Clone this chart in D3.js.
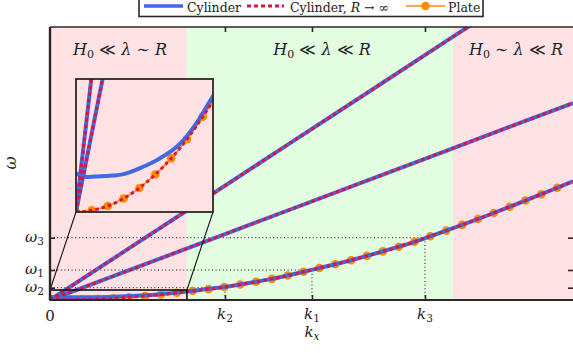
<!DOCTYPE html>
<html><head><meta charset="utf-8">
<script src="https://cdn.jsdelivr.net/npm/d3@7"></script>
<style>body{margin:0;background:#fff}svg{display:block}</style>
</head><body><svg id="c" width="573" height="353"></svg>
<script>
// ---- data ----
const regionEdges = [0, 0.864, 2.543, 3.3];
const regionKinds = ["pink", "green", "pink"];
const regionLabels = [["H","0","≪","λ","∼","R"],["H","0","≪","λ","≪","R"],["H","0","∼","λ","≪","R"]];
const kTicks = [1.104, 1.653, 2.366];
const kTickLabels = ["2", "1", "3"];
const wTicks = [0.123, 0.30, 0.623];
const wTickLabels = ["2", "1", "3"];

const kPlate = [0,0.1,0.2,0.3,0.4,0.5,0.6,0.7,0.8,0.9,1.0,1.1,1.2,1.3,1.4,1.5,1.6,1.7,1.8,1.9,2.0,2.1,2.2,2.3,2.4,2.5,2.6,2.7,2.8,2.9,3.0,3.1,3.2];
const wPlate = [0,0.0013,0.0045,0.0101,0.0181,0.0282,0.0403,0.0547,0.0717,0.090,0.109,0.130,0.155,0.182,0.211,0.245,0.282,0.320,0.358,0.398,0.441,0.486,0.533,0.582,0.638,0.694,0.751,0.810,0.870,0.932,0.995,1.058,1.122];
const kInfEnd = [3.3];
const wInfEnd = [1.186];

const kSteep = [0, 0.5, 1.0, 1.5, 2.0, 2.5, 2.7];
const wSteep = [0, 0.518, 1.035, 1.553, 2.07, 2.588, 2.795];
const kMid = [0, 0.5, 1.0, 1.5, 2.0, 2.5, 3.0, 3.3];
const wMid = [0, 0.298, 0.597, 0.895, 1.194, 1.492, 1.791, 1.97];
const kCylLow = [0,0.07,0.19,0.30,0.40,0.51,0.66,0.76,0.87,0.95,1.0,1.1,1.2,1.3,1.4,1.5,1.6,1.7,1.8,1.9,2.0,2.1,2.2,2.3,2.4,2.5,2.6,2.7,2.8,2.9,3.0,3.1,3.2,3.3];
const wCylLow = [0.029,0.0264,0.027,0.0285,0.0328,0.039,0.0517,0.0668,0.088,0.101,0.112,0.131,0.155,0.182,0.211,0.245,0.282,0.320,0.358,0.398,0.441,0.486,0.533,0.582,0.638,0.694,0.751,0.810,0.870,0.932,0.995,1.058,1.122,1.186];

const legendItems = ["Cylinder", "Cylinder, ", "Plate"];

// ---- styles ----
const C = {pink:"#ffe3e4", green:"#e3fde0", blue:"#4169e1", red:"#dc143c", orange:"#ff8c00", frame:"#2e2626", text:"#222"};
const FONT = "'DejaVu Serif', serif";

const svg = d3.select("#c");
const x = d3.scaleLinear().domain([0, 3.3]).range([50, 573]);
const y = d3.scaleLinear().domain([0, 2.73]).range([300, 27]);
const ix = d3.scaleLinear().domain([0, 0.864]).range([76, 213]);
const iy = d3.scaleLinear().domain([0, 0.1]).range([212, 79]);

const defs = svg.append("defs");
defs.append("clipPath").attr("id","plotclip").append("rect").attr("x",50).attr("y",27).attr("width",523).attr("height",273);
defs.append("clipPath").attr("id","insetclip").append("rect").attr("x",76).attr("y",79).attr("width",137).attr("height",133);

const zip = (a,b) => a.map((v,i)=>[v,b[i]]);
const plateData = zip(kPlate, wPlate);
const infLow = plateData.concat(zip(kInfEnd, wInfEnd));
const steep = zip(kSteep, wSteep), mid = zip(kMid, wMid), cylLow = zip(kCylLow, wCylLow);

function drawCurves(g, sx, sy) {
  const line = d3.line().x(d=>sx(d[0])).y(d=>sy(d[1])).curve(d3.curveMonotoneX);
  const lin = d3.line().x(d=>sx(d[0])).y(d=>sy(d[1]));
  g.append("path").attr("d", line(plateData)).attr("fill","none").attr("stroke",C.orange).attr("stroke-width",1.6);
  g.selectAll(null).data(plateData).enter().append("circle")
    .attr("cx",d=>sx(d[0])).attr("cy",d=>sy(d[1])).attr("r",4.3).attr("fill",C.orange);
  [steep, mid].forEach(s => g.append("path").attr("d", lin(s)).attr("fill","none").attr("stroke",C.blue).attr("stroke-width",4));
  g.append("path").attr("d", line(cylLow)).attr("fill","none").attr("stroke",C.blue).attr("stroke-width",4);
  [steep, mid].forEach(s => g.append("path").attr("d", lin(s)).attr("fill","none").attr("stroke",C.red).attr("stroke-width",3).attr("stroke-dasharray","3.5,3"));
  g.append("path").attr("d", line(infLow)).attr("fill","none").attr("stroke",C.red).attr("stroke-width",3).attr("stroke-dasharray","3.5,3");
}

function txt(sel) { return sel.append("text").style("font-family", FONT).attr("fill", C.text); }

const plot = svg.append("g").attr("clip-path","url(#plotclip)");
regionKinds.forEach((kind,i)=>{
  plot.append("rect").attr("x", x(regionEdges[i])).attr("y", 27)
    .attr("width", x(regionEdges[i+1]) - x(regionEdges[i])).attr("height", 273).attr("fill", C[kind]);
});
const guides = plot.append("g").attr("stroke","#111").attr("stroke-width",1).attr("stroke-dasharray","1,2.6");
kTicks.forEach((k,i)=>{
  guides.append("line").attr("x1",x(0)).attr("x2",x(k)).attr("y1",y(wTicks[i])).attr("y2",y(wTicks[i]));
  guides.append("line").attr("x1",x(k)).attr("x2",x(k)).attr("y1",y(0)).attr("y2",y(wTicks[i]));
});
drawCurves(plot, x, y);

const labelX = [120, 322, 516];
regionLabels.forEach((p,i)=>{
  const t = txt(svg).attr("x", labelX[i]).attr("y", 55).attr("text-anchor","middle").attr("font-size",16);
  t.append("tspan").attr("font-style","italic").text(p[0]);
  t.append("tspan").attr("font-size",11).attr("dy",3).text(p[1]);
  t.append("tspan").attr("dy",-3).text(" " + p[2] + " ");
  t.append("tspan").attr("font-style","italic").text(p[3]);
  t.append("tspan").text(" " + p[4] + " ");
  t.append("tspan").attr("font-style","italic").text(p[5]);
});

svg.append("rect").attr("x",x(0)).attr("y",y(0.1)).attr("width",x(0.864)-x(0)).attr("height",y(0)-y(0.1))
  .attr("fill","none").attr("stroke","#111").attr("stroke-width",1.6);
svg.append("line").attr("x1",x(0)).attr("y1",y(0.1)).attr("x2",76).attr("y2",212).attr("stroke","#111").attr("stroke-width",1.1);
svg.append("line").attr("x1",x(0.864)).attr("y1",y(0.1)).attr("x2",213).attr("y2",212).attr("stroke","#111").attr("stroke-width",1.1);

svg.append("rect").attr("x",76).attr("y",79).attr("width",137).attr("height",133).attr("fill",C.pink);
const ins = svg.append("g").attr("clip-path","url(#insetclip)");
drawCurves(ins, ix, iy);
svg.append("rect").attr("x",76).attr("y",79).attr("width",137).attr("height",133).attr("fill","none").attr("stroke",C.frame).attr("stroke-width",1.8);

const axB = svg.append("g").attr("transform","translate(0,300)").call(d3.axisBottom(x).tickValues(kTicks).tickSize(-5).tickFormat(""));
const axT = svg.append("g").attr("transform","translate(0,27)").call(d3.axisTop(x).tickValues(kTicks).tickSize(-5).tickFormat(""));
const axL = svg.append("g").attr("transform","translate(50,0)").call(d3.axisLeft(y).tickValues(wTicks).tickSize(-5).tickFormat(""));
const axR = svg.append("g").attr("transform","translate(573,0)").call(d3.axisRight(y).tickValues(wTicks).tickSize(-5).tickFormat(""));
[axB,axT,axL,axR].forEach(a=>{a.select(".domain").remove(); a.selectAll(".tick line").attr("stroke",C.frame).attr("stroke-width",1.6);});

svg.append("line").attr("x1",50).attr("x2",573).attr("y1",27).attr("y2",27).attr("stroke",C.frame).attr("stroke-width",1.6);
svg.append("line").attr("x1",50).attr("x2",573).attr("y1",300).attr("y2",300).attr("stroke",C.frame).attr("stroke-width",2);
svg.append("line").attr("x1",50).attr("x2",50).attr("y1",27).attr("y2",300).attr("stroke",C.frame).attr("stroke-width",2.4);

kTicks.forEach((k,i)=>{
  const t = txt(svg).attr("x", x(k)).attr("y", 319).attr("text-anchor","middle").attr("font-size",15);
  t.append("tspan").attr("font-style","italic").text("k");
  t.append("tspan").attr("font-size",10.5).attr("dy",3).text(kTickLabels[i]);
});
wTicks.forEach((w,i)=>{
  const t = txt(svg).attr("x", 44).attr("y", y(w)+4).attr("text-anchor","end").attr("font-size",15);
  t.append("tspan").attr("font-style","italic").text("ω");
  t.append("tspan").attr("font-size",10.5).attr("dy",3).text(wTickLabels[i]);
});
txt(svg).attr("x",x(0)).attr("y",321).attr("text-anchor","middle").attr("font-size",15).text("0");
const xl = txt(svg).attr("x",312).attr("y",337).attr("text-anchor","middle").attr("font-size",15);
xl.append("tspan").attr("font-style","italic").text("k");
xl.append("tspan").attr("font-style","italic").attr("font-size",10.5).attr("dy",3).text("x");
txt(svg).attr("transform","translate(16,163) rotate(-90)").attr("text-anchor","middle").attr("font-size",16).attr("font-style","italic").text("ω");

const lg = svg.append("g");
lg.append("rect").attr("x",139).attr("y",-3).attr("width",344).attr("height",19.5).attr("fill","#fff").attr("stroke",C.frame).attr("stroke-width",1.6);
lg.append("line").attr("x1",144).attr("x2",183).attr("y1",6).attr("y2",6).attr("stroke",C.blue).attr("stroke-width",3.6);
txt(lg).attr("x",187).attr("y",12).attr("font-size",12.5).text(legendItems[0]);
lg.append("line").attr("x1",247).attr("x2",284).attr("y1",6).attr("y2",6).attr("stroke",C.red).attr("stroke-width",3).attr("stroke-dasharray","4,3");
const l2 = txt(lg).attr("x",290).attr("y",12).attr("font-size",12.5);
l2.append("tspan").text(legendItems[1]);
l2.append("tspan").attr("font-style","italic").text("R");
l2.append("tspan").text(" → ∞");
lg.append("line").attr("x1",406).attr("x2",445).attr("y1",6).attr("y2",6).attr("stroke",C.orange).attr("stroke-width",1.6);
lg.append("circle").attr("cx",425.5).attr("cy",6).attr("r",4.3).attr("fill",C.orange);
txt(lg).attr("x",448).attr("y",12).attr("font-size",12.5).text(legendItems[2]);
</script></body></html>
